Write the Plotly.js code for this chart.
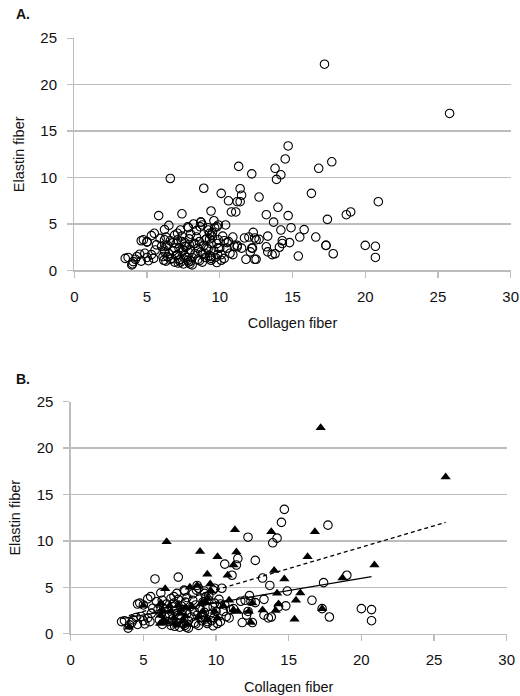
<!DOCTYPE html>
<html>
<head>
<meta charset="utf-8">
<script src="https://cdn.plot.ly/plotly-3.0.1.min.js"></script>
<style>html,body{margin:0;padding:0;background:#fff;}#chart{width:520px;height:696px;}</style>
</head>
<body>
<div id="chart"></div>
<script>
// Group 1 (open circles in panel B)
const circX = [14.7,14.5,17.7,12.2,14.2,13.9,11.5,10.6,11.4,12.7,5.8,7.4,11.1,13.2,13.7,17.4,19.0,9.9,5.5,12.3,13.3,14.9,16.6,17.3,17.8,20.0,20.7,20.7,
  8.7,7.8,9.2,9.3,6.2,5.0,4.6,4.75,14.3,14.8,13.8,13.6,13.3,12.7,12.4,12.0,11.7,11.8,12.5,12.2,12.1,10.3,10.6,10.5,10.3,10.7,10.9,11.0,11.2,
  9.8,9.9,9.85,9.4,9.4,9.8,8.6,9.0,7.85,7.95,7.15,7.3,7.85,8.8,8.65,9.8,10.4,9.2,9.5,5.3,4.5,4.85,4.3,3.7,3.5,4.05,3.95,5.3,5.55,5.45,5.65,5.9,4.2,4.6,5.0,5.1,
  6.1,6.2,6.3,6.4,6.5,6.6,6.7,6.8,6.9,7.0,7.0,7.1,7.2,7.3,7.4,7.5,7.6,7.6,7.7,7.8,7.9,8.0,8.1,8.1,8.2,8.3,8.4,8.5,8.5,8.6,8.7,8.8,8.9,9.0,9.1,9.2,9.3,9.4,9.5,9.6,9.7,10.0,10.1,10.2,6.0,6.3,6.9,7.4,8.0,8.4,7.1];
const circY = [13.4,12.0,11.7,10.4,10.3,9.8,8.1,7.5,7.4,7.9,5.9,6.1,6.3,6.0,5.2,5.5,6.3,4.9,4.0,4.1,3.7,4.6,3.6,2.7,1.8,2.7,2.6,1.4,
  5.2,4.7,4.6,4.0,4.4,3.1,3.2,3.3,2.9,3.0,1.8,1.7,2.0,3.35,3.5,3.6,3.5,1.2,1.2,2.4,2.0,3.2,3.1,2.4,1.3,1.85,1.7,2.6,2.7,
  2.9,3.3,1.7,1.1,1.3,0.85,1.05,1.4,0.9,0.7,0.8,4.35,4.6,4.9,4.7,4.7,4.9,4.35,4.1,3.75,1.75,1.85,1.5,1.4,1.3,0.95,0.6,1.7,2.2,1.3,2.75,3.45,1.2,1.0,1.4,1.05,
  1.5,2.2,1.0,2.7,1.8,3.2,1.3,2.1,0.9,2.9,1.6,3.3,2.4,1.2,2.0,0.7,3.0,1.6,2.6,1.1,3.4,2.2,1.4,0.6,2.9,1.8,3.6,2.4,1.2,3.1,2.0,0.9,2.7,1.8,3.4,2.3,1.6,2.9,3.6,2.1,1.4,2.4,1.1,3.7,2.6,3.6,3.8,3.7,3.9,4.3,4.0];
// Group 2 (filled triangles in panel B)
const triX = [17.2,25.8,11.3,13.8,16.8,6.6,8.9,11.4,10.1,16.3,11.2,20.9,10.8,14.0,9.4,14.7,18.7,8.7,8.2,9.6,9.65,6.5,14.2,15.8,15.5,5.0,6.2,9.3,10.9,10.5,
  12.5,14.3,13.2,14.1,17.3,15.4,12.4,12.25,11.5,11.2,4.0,6.15,9.4,9.0,8.3,9.1,9.9,10.1,9.4,8.8,6.2,6.4,6.6,6.9,7.1,7.3,7.5,7.7,7.9,8.0,6.3,6.8,7.4,7.6,7.2,7.9];
const triY = [22.2,16.9,11.2,11.0,11.0,9.9,8.85,8.8,8.3,8.3,7.4,7.4,6.3,6.8,6.4,5.9,6.0,5.2,5.0,5.35,4.6,4.85,4.35,4.4,3.6,3.05,3.3,3.4,3.6,3.0,
  3.3,3.2,2.55,2.5,2.7,1.55,1.2,2.4,2.4,2.55,0.7,1.1,3.8,3.3,2.9,2.4,2.4,1.7,1.5,1.8,2.0,1.5,1.2,2.4,1.7,0.9,2.2,1.4,2.8,1.0,2.6,3.0,3.1,2.6,1.1,1.9];
// Linear trend lines (endpoints)
const trendCircX = [3.5, 20.7];
const trendCircY = [1.62, 6.15];
const trendTriX = [4.0, 25.8];
const trendTriY = [1.95, 12.0];
const xTicks = [0,5,10,15,20,25,30];
const yTicks = [0,5,10,15,20,25];

const allX = circX.concat(triX);
const allY = circY.concat(triY);

const FONT = 'Liberation Sans, Arial, sans-serif';
const GRID = '#bdbdbd';
const circMarker = {symbol:'circle-open', size:8.5, color:'#000', line:{width:1.1, color:'#000'}};

const traces = [
  {x:allX, y:allY, type:'scatter', mode:'markers', marker:circMarker, xaxis:'x', yaxis:'y', showlegend:false},
  {x:circX, y:circY, type:'scatter', mode:'markers', marker:circMarker, xaxis:'x2', yaxis:'y2', showlegend:false},
  {x:triX, y:triY, type:'scatter', mode:'markers', marker:{symbol:'triangle-up', size:9, color:'#000'}, xaxis:'x2', yaxis:'y2', showlegend:false},
  {x:trendCircX, y:trendCircY, type:'scatter', mode:'lines', line:{color:'#000', width:1.3}, xaxis:'x2', yaxis:'y2', showlegend:false},
  {x:trendTriX, y:trendTriY, type:'scatter', mode:'lines', line:{color:'#000', width:1.3, dash:'4px,3px'}, xaxis:'x2', yaxis:'y2', showlegend:false}
];

function xa(domain, anchor){
  return {domain:domain, anchor:anchor, range:[0,30], tickvals:xTicks, showgrid:false, zeroline:false,
    showline:true, linecolor:GRID, linewidth:1.3, ticks:'outside', ticklen:6, tickcolor:GRID, tickwidth:1.3,
    ticklabelstandoff:6, tickfont:{family:FONT, size:15, color:'#111'},
    title:{text:'Collagen fiber', font:{family:FONT, size:14.5, color:'#111'}, standoff:14}};
}
function ya(domain, anchor){
  return {domain:domain, anchor:anchor, range:[0,25], tickvals:yTicks, showgrid:true, gridcolor:GRID, gridwidth:1.3, zeroline:false,
    showline:true, linecolor:GRID, linewidth:1.3, ticks:'outside', ticklen:6, tickcolor:GRID, tickwidth:1.3,
    ticklabelstandoff:7, tickfont:{family:FONT, size:15, color:'#111'},
    title:{text:'Elastin fiber', font:{family:FONT, size:14.5, color:'#111'}, standoff:12}};
}

const layout = {
  width:520, height:696, margin:{l:0, r:0, t:0, b:0}, paper_bgcolor:'#fff', plot_bgcolor:'#fff',
  xaxis: xa([0.1429,0.9821],'y'),
  yaxis: ya([0.6114,0.9451],'x'),
  xaxis2: xa([0.136,0.9744],'y2'),
  yaxis2: ya([0.0895,0.4228],'x2'),
  annotations:[
    {text:'<b>A.</b>', xref:'paper', yref:'paper', x:14/520, y:1-14/696, xanchor:'left', yanchor:'middle', showarrow:false, font:{family:FONT, size:14, color:'#111'}},
    {text:'<b>B.</b>', xref:'paper', yref:'paper', x:14/520, y:1-379/696, xanchor:'left', yanchor:'middle', showarrow:false, font:{family:FONT, size:14, color:'#111'}}
  ]
};

Plotly.newPlot('chart', traces, layout, {staticPlot:true, displayModeBar:false});
</script>
</body>
</html>
